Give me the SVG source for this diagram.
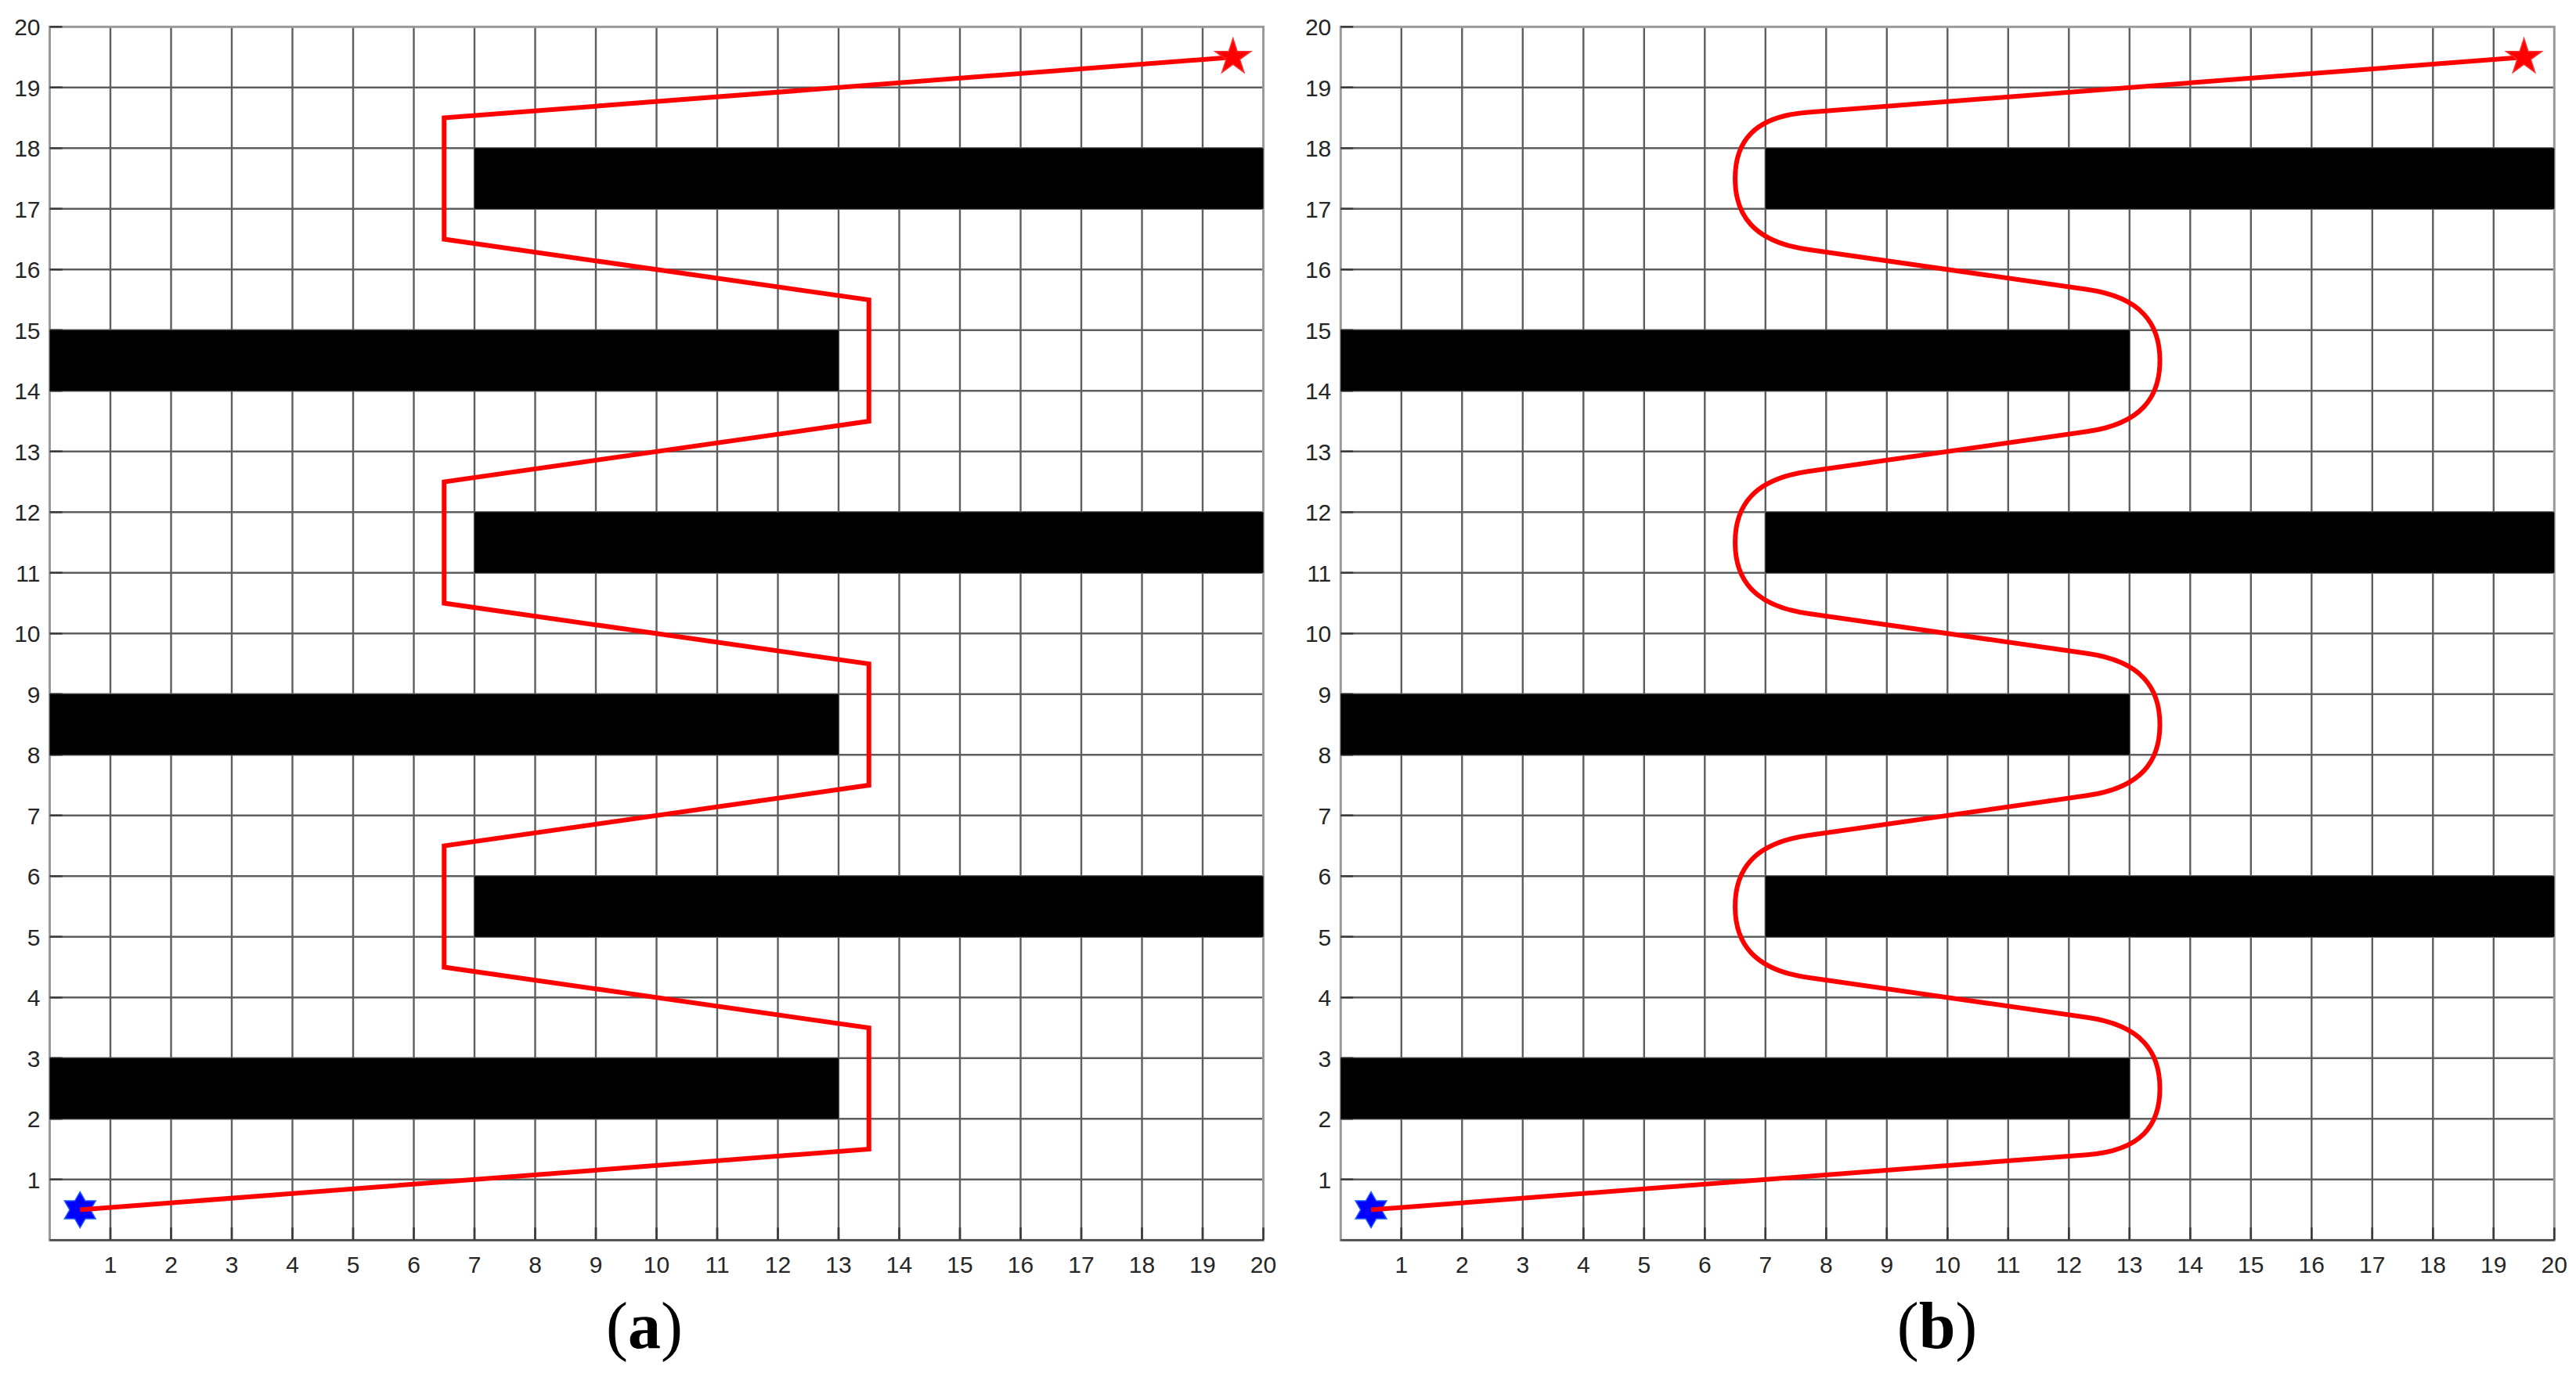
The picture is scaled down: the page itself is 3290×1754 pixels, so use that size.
<svg xmlns="http://www.w3.org/2000/svg" xmlns:xlink="http://www.w3.org/1999/xlink" width="3290" height="1754" viewBox="0 0 3290 1754">
<style>
.grid{fill:none;stroke:#5e5e5e;stroke-width:2.4}
.box{fill:none;stroke:#9a9a9a;stroke-width:3}
.axb{fill:none;stroke:#4a4a4a;stroke-width:2.6}
.tick{fill:none;stroke:#3a3a3a;stroke-width:2.6}
.obs{fill:#000}
.route{fill:none;stroke:#ff0000;stroke-width:6;stroke-linejoin:miter;vector-effect:non-scaling-stroke}
.yl{font-family:"Liberation Sans",Arial,sans-serif;font-size:30px;fill:#262626;text-anchor:end}
.xl{font-family:"Liberation Sans",Arial,sans-serif;font-size:30px;fill:#262626;text-anchor:middle}
.cap{font-family:"Liberation Serif","Times New Roman",serif;font-size:84px;fill:#000;text-anchor:middle}
.start{fill:#0000ff;stroke:#1a5cff;stroke-width:1.5}
.goal{fill:#ff0000;stroke:#ff2a2a;stroke-width:1.5}
</style>
<defs>
<g id="frame">
<path class="grid" d="M77.5 0V-1550M155 0V-1550M232.5 0V-1550M310 0V-1550M387.5 0V-1550M465 0V-1550M542.5 0V-1550M620 0V-1550M697.5 0V-1550M775 0V-1550M852.5 0V-1550M930 0V-1550M1007.5 0V-1550M1085 0V-1550M1162.5 0V-1550M1240 0V-1550M1317.5 0V-1550M1395 0V-1550M1472.5 0V-1550M0 -77.5H1550M0 -155H1550M0 -232.5H1550M0 -310H1550M0 -387.5H1550M0 -465H1550M0 -542.5H1550M0 -620H1550M0 -697.5H1550M0 -775H1550M0 -852.5H1550M0 -930H1550M0 -1007.5H1550M0 -1085H1550M0 -1162.5H1550M0 -1240H1550M0 -1317.5H1550M0 -1395H1550M0 -1472.5H1550"/>
<rect class="box" x="0" y="-1550" width="1550" height="1550"/>
<path class="axb" d="M0 0H1550"/>
<path class="tick" d="M0 -77.5h16M0 -155h16M0 -232.5h16M0 -310h16M0 -387.5h16M0 -465h16M0 -542.5h16M0 -620h16M0 -697.5h16M0 -775h16M0 -852.5h16M0 -930h16M0 -1007.5h16M0 -1085h16M0 -1162.5h16M0 -1240h16M0 -1317.5h16M0 -1395h16M0 -1472.5h16M0 -1550h16M77.5 0v-16M155 0v-16M232.5 0v-16M310 0v-16M387.5 0v-16M465 0v-16M542.5 0v-16M620 0v-16M697.5 0v-16M775 0v-16M852.5 0v-16M930 0v-16M1007.5 0v-16M1085 0v-16M1162.5 0v-16M1240 0v-16M1317.5 0v-16M1395 0v-16M1472.5 0v-16M1550 0v-16"/>
<g class="obstacles">
<rect class="obs" x="542.5" y="-1395" width="1007.5" height="77.5"/>
<rect class="obs" x="0" y="-1162.5" width="1007.5" height="77.5"/>
<rect class="obs" x="542.5" y="-930" width="1007.5" height="77.5"/>
<rect class="obs" x="0" y="-697.5" width="1007.5" height="77.5"/>
<rect class="obs" x="542.5" y="-465" width="1007.5" height="77.5"/>
<rect class="obs" x="0" y="-232.5" width="1007.5" height="77.5"/>
</g>
<g class="ylabels">
<text class="yl" x="-12" y="-66.8">1</text>
<text class="yl" x="-12" y="-144.3">2</text>
<text class="yl" x="-12" y="-221.8">3</text>
<text class="yl" x="-12" y="-299.3">4</text>
<text class="yl" x="-12" y="-376.8">5</text>
<text class="yl" x="-12" y="-454.3">6</text>
<text class="yl" x="-12" y="-531.8">7</text>
<text class="yl" x="-12" y="-609.3">8</text>
<text class="yl" x="-12" y="-686.8">9</text>
<text class="yl" x="-12" y="-764.3">10</text>
<text class="yl" x="-12" y="-841.8">11</text>
<text class="yl" x="-12" y="-919.3">12</text>
<text class="yl" x="-12" y="-996.8">13</text>
<text class="yl" x="-12" y="-1074.3">14</text>
<text class="yl" x="-12" y="-1151.8">15</text>
<text class="yl" x="-12" y="-1229.3">16</text>
<text class="yl" x="-12" y="-1306.8">17</text>
<text class="yl" x="-12" y="-1384.3">18</text>
<text class="yl" x="-12" y="-1461.8">19</text>
<text class="yl" x="-12" y="-1539.3">20</text>
</g>
<g class="xlabels">
<text class="xl" x="77.5" y="41.5">1</text>
<text class="xl" x="155" y="41.5">2</text>
<text class="xl" x="232.5" y="41.5">3</text>
<text class="xl" x="310" y="41.5">4</text>
<text class="xl" x="387.5" y="41.5">5</text>
<text class="xl" x="465" y="41.5">6</text>
<text class="xl" x="542.5" y="41.5">7</text>
<text class="xl" x="620" y="41.5">8</text>
<text class="xl" x="697.5" y="41.5">9</text>
<text class="xl" x="775" y="41.5">10</text>
<text class="xl" x="852.5" y="41.5">11</text>
<text class="xl" x="930" y="41.5">12</text>
<text class="xl" x="1007.5" y="41.5">13</text>
<text class="xl" x="1085" y="41.5">14</text>
<text class="xl" x="1162.5" y="41.5">15</text>
<text class="xl" x="1240" y="41.5">16</text>
<text class="xl" x="1317.5" y="41.5">17</text>
<text class="xl" x="1395" y="41.5">18</text>
<text class="xl" x="1472.5" y="41.5">19</text>
<text class="xl" x="1550" y="41.5">20</text>
</g>
<polygon class="start" transform="translate(38.75,-38.75)" points="0,-23 6.64,-11.5 19.92,-11.5 13.28,0 19.92,11.5 6.64,11.5 0,23 -6.64,11.5 -19.92,11.5 -13.28,0 -19.92,-11.5 -6.64,-11.5"/>
</g>
<polygon id="goalstar" class="goal" points="0,-24 5.39,-7.42 22.83,-7.42 8.72,2.83 14.11,19.42 0,9.17 -14.11,19.42 -8.72,2.83 -22.83,-7.42 -5.39,-7.42"/>
</defs>

<g id="panel-a" transform="translate(63.5,1584.3)">
<use xlink:href="#frame" href="#frame"/>
<g transform="scale(77.5,-77.5)">
<path class="route" d="M0.5 0.5L13.5 1.5L13.5 3.5L6.5 4.5L6.5 6.5L13.5 7.5L13.5 9.5L6.5 10.5L6.5 12.5L13.5 13.5L13.5 15.5L6.5 16.5L6.5 18.5L19.5 19.5"/>
</g>
<use xlink:href="#goalstar" href="#goalstar" x="1511.25" y="-1511.25"/>
</g>

<g id="panel-b" transform="translate(1712.3,1584.3)">
<use xlink:href="#frame" href="#frame"/>
<g transform="scale(77.5,-77.5)">
<path class="route" d="M0.5 0.5L12.3 1.408C13.2 1.477 13.5 1.9 13.5 2.5C13.5 3.1 13.2 3.543 12.3 3.671L7.7 4.329C6.8 4.457 6.5 4.9 6.5 5.5C6.5 6.1 6.8 6.543 7.7 6.671L12.3 7.329C13.2 7.457 13.5 7.9 13.5 8.5C13.5 9.1 13.2 9.543 12.3 9.671L7.7 10.329C6.8 10.457 6.5 10.9 6.5 11.5C6.5 12.1 6.8 12.543 7.7 12.671L12.3 13.329C13.2 13.457 13.5 13.9 13.5 14.5C13.5 15.1 13.2 15.543 12.3 15.671L7.7 16.329C6.8 16.457 6.5 16.9 6.5 17.5C6.5 18.1 6.8 18.523 7.7 18.592L19.5 19.5"/>
</g>
<use xlink:href="#goalstar" href="#goalstar" x="1511.25" y="-1511.25"/>
</g>

<g id="captions">
<text class="cap" x="823" y="1722">(<tspan font-weight="bold">a</tspan>)</text>
<text class="cap" x="2474" y="1722">(<tspan font-weight="bold">b</tspan>)</text>
</g>
</svg>
